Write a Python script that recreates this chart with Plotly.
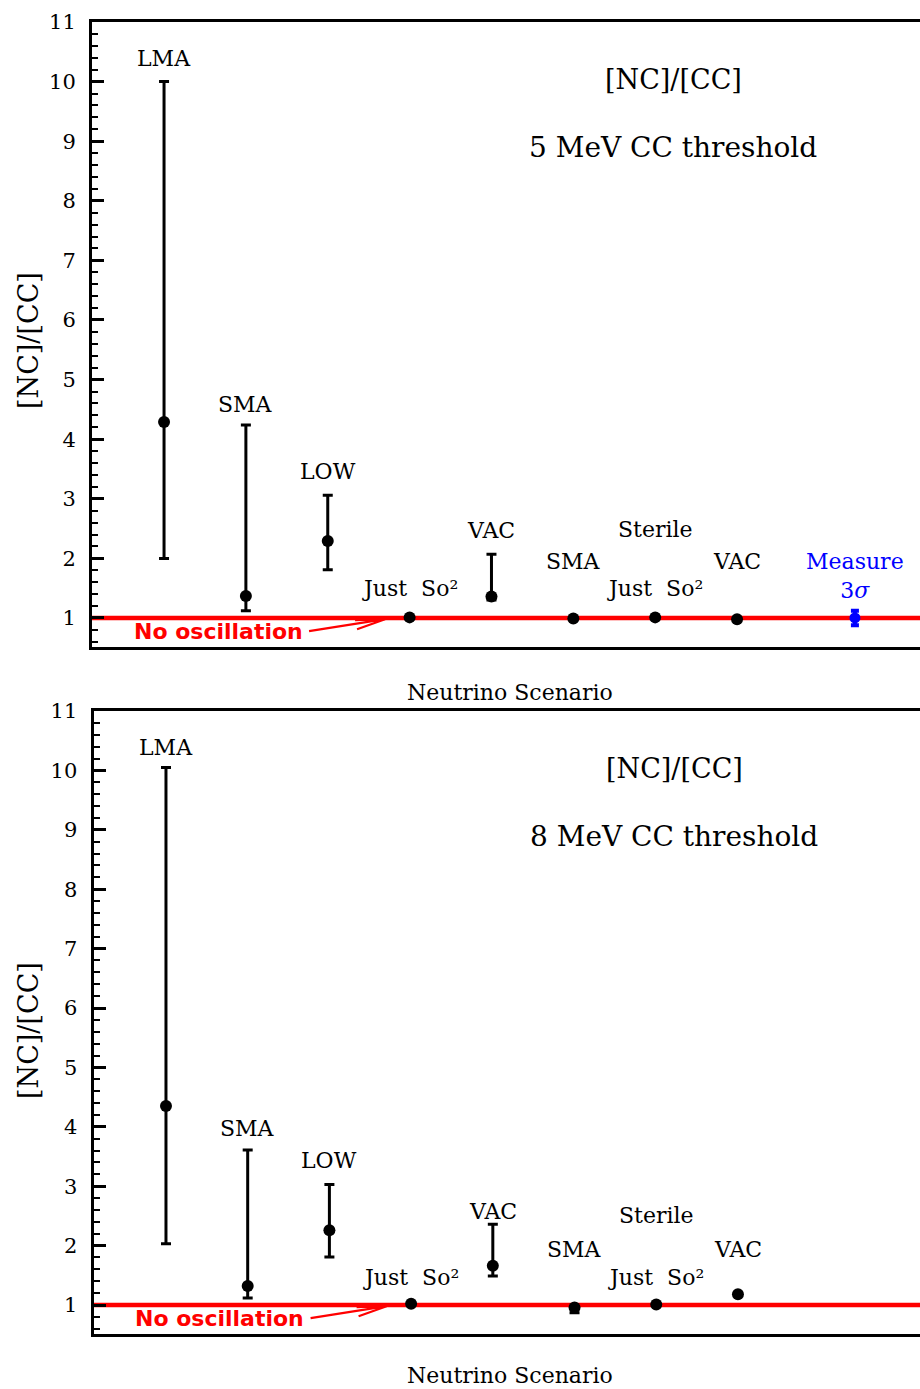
import plotly.graph_objects as go

# Scenario categories (x positions 1..8) and their labels
scenarios = ["LMA", "SMA", "LOW", "Just\u00a0 So²", "VAC", "SMA", "Just\u00a0 So²", "VAC"]
xpos = [1, 2, 3, 4, 5, 6, 7, 8]

# [NC]/[CC] predictions, 5 MeV CC threshold: best fit, upper and lower limits
ratio_5 = [4.29, 1.37, 2.29, 1.01, 1.36, 0.99, 1.01, 0.98]
upper_5 = [10.0, 4.24, 3.06, 1.01, 2.07, 0.99, 1.01, 0.98]
lower_5 = [2.0, 1.12, 1.81, 1.01, 1.30, 0.99, 1.01, 0.98]

# [NC]/[CC] predictions, 8 MeV CC threshold
ratio_8 = [4.35, 1.32, 2.26, 1.02, 1.66, 0.96, 1.01, 1.18]
upper_8 = [10.05, 3.61, 3.03, 1.02, 2.36, 0.96, 1.01, 1.18]
lower_8 = [2.03, 1.12, 1.81, 1.02, 1.49, 0.87, 1.01, 1.18]

# Measured value with 3 sigma band (5 MeV panel only)
measured_x = [9.44]
measured = [1.0]
measured_err = [0.12]

# No-oscillation expectation
no_osc = 1.0

# Label heights for each scenario name
label_y_5 = [10.38, 4.59, 3.45, 1.49, 2.46, 1.94, 1.49, 1.94]
label_y_8 = [10.39, 3.98, 3.44, 1.47, 2.58, 1.94, 1.47, 1.94]
sterile_y = [2.49, 2.50]
thresholds = ["5 MeV CC threshold", "8 MeV CC threshold"]

SERIF = "DejaVu Serif"
SANS = "DejaVu Sans"
H = 1389
W = 920

fig = go.Figure()

panels = [
    dict(x="x", y="y", xa="xaxis", ya="yaxis", ry="yaxis3",
         vals=ratio_5, up=upper_5, lo=lower_5, ly=label_y_5, sy=sterile_y[0],
         thr=thresholds[0],
         xdom=[92 / W, 1], ydom=[(H - 647) / H, (H - 22) / H],
         xr=[0.12, 10.235], yr=[0.513, 11], ycen=(H - 341) / H, xt=(H - 692) / H),
    dict(x="x2", y="y2", xa="xaxis2", ya="yaxis2", ry="yaxis4",
         vals=ratio_8, up=upper_8, lo=lower_8, ly=label_y_8, sy=sterile_y[1],
         thr=thresholds[1],
         xdom=[93.5 / W, 1], ydom=[(H - 1334) / H, (H - 711) / H],
         xr=[0.113, 10.228], yr=[0.512, 11], ycen=(H - 1031) / H, xt=(H - 1375) / H),
]

annotations = []
shapes = []
layout_axes = {}


def label(x, y, xref, yref, text, size=21, color="black", family=SERIF, **kw):
    d = dict(x=x, y=y, xref=xref, yref=yref, text=text, showarrow=False,
             xanchor="center", yanchor="middle",
             font=dict(family=family, size=size, color=color))
    d.update(kw)
    return d


for i, p in enumerate(panels):
    plus = [u - v for u, v in zip(p["up"], p["vals"])]
    minus = [v - l for v, l in zip(p["vals"], p["lo"])]
    fig.add_trace(go.Scatter(
        x=xpos, y=p["vals"], mode="markers", xaxis=p["x"], yaxis=p["y"],
        marker=dict(size=12, color="black"),
        error_y=dict(type="data", symmetric=False, array=plus, arrayminus=minus,
                     thickness=3, width=5, color="black"),
        showlegend=False, hoverinfo="skip"))

    if i == 0:
        fig.add_trace(go.Scatter(
            x=measured_x, y=measured, mode="markers", xaxis=p["x"], yaxis=p["y"],
            marker=dict(size=11, color="#0000ff"),
            error_y=dict(type="data", array=measured_err, thickness=4, width=4,
                         color="#0000ff"),
            showlegend=False, hoverinfo="skip"))
        annotations.append(label(measured_x[0], 1.70, p["x"], p["y"],
                                 "Measure<br>3<i>σ</i>", size=22, color="#0000ff"))

    # scenario names
    for xv, name, ly in zip(xpos, scenarios, p["ly"]):
        annotations.append(label(xv, ly, p["x"], p["y"], name, size=22))
    annotations.append(label(7, p["sy"], p["x"], p["y"], "Sterile", size=22))

    # panel captions
    annotations.append(label(7.22, 10.03, p["x"], p["y"], "[NC]/[CC]", size=27))
    annotations.append(label(7.22, 8.89, p["x"], p["y"], p["thr"], size=28))

    # no-oscillation line, label and arrow
    shapes.append(dict(type="line", xref=p["x"] + " domain", x0=0, x1=1,
                       yref=p["y"], y0=no_osc, y1=no_osc,
                       line=dict(color="#ff0000", width=4.5), layer="below"))
    no_osc_label = label(1.66, 0.78, p["x"], p["y"], "No oscillation", size=22,
                         color="#ff0000", family=SANS)
    no_osc_label["font"]["weight"] = "bold"
    annotations.append(no_osc_label)
    shapes.append(dict(type="path", xref=p["x"], yref=p["y"], xsizemode="pixel",
                       ysizemode="pixel", xanchor=3.70, yanchor=no_osc - 0.02,
                       path="M-76,-12 L0,0 M-28,-10 L0,0 L-30,-1",
                       line=dict(color="#ff0000", width=2.2)))

    # axis titles
    annotations.append(label(28 / W, p["ycen"], "paper", "paper", "[NC]/[CC]",
                             size=27, textangle=-90))
    annotations.append(label(510 / W, p["xt"], "paper", "paper", "Neutrino Scenario",
                             size=22))

    layout_axes[p["xa"]] = dict(domain=p["xdom"], range=p["xr"], anchor=p["y"],
                                showline=True, mirror=True, linewidth=3, linecolor="black",
                                showticklabels=False, ticks="", showgrid=False,
                                zeroline=False, automargin=False)
    layout_axes[p["ya"]] = dict(domain=p["ydom"], range=p["yr"], anchor=p["x"],
                                showline=True, mirror=False, linewidth=3, linecolor="black",
                                ticks="inside", ticklen=12, tickwidth=2.5, tickcolor="black",
                                tick0=0, dtick=1, ticklabelstandoff=9,
                                tickfont=dict(family=SERIF, size=21, color="black"),
                                minor=dict(ticks="inside", ticklen=6, tickwidth=2,
                                           tickcolor="black", tick0=0, dtick=0.2,
                                           showgrid=False),
                                showgrid=False, zeroline=False, automargin=False)
    layout_axes[p["ry"]] = dict(overlaying=p["y"], side="right", anchor=p["x"],
                                range=p["yr"], ticks="inside", ticklen=4, tickwidth=2.5,
                                tickcolor="black", tick0=0, dtick=1,
                                showticklabels=False, showline=False, showgrid=False,
                                zeroline=False, automargin=False)

fig.update_layout(
    width=W, height=H,
    margin=dict(l=0, r=0, t=0, b=0, autoexpand=False),
    paper_bgcolor="white", plot_bgcolor="white",
    annotations=annotations, shapes=shapes,
    **layout_axes,
)

fig.write_html("out.html")
